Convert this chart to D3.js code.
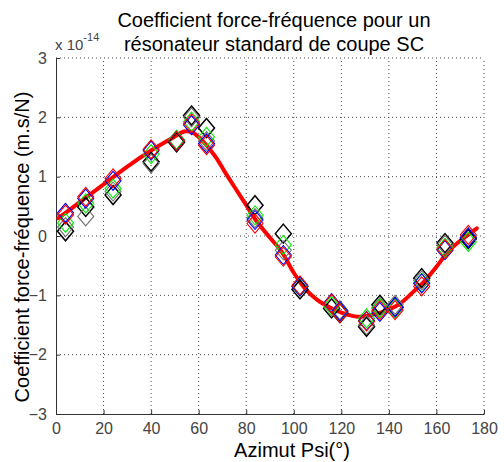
<!DOCTYPE html>
<html><head><meta charset="utf-8">
<script src="https://cdn.jsdelivr.net/npm/d3@7"></script>
<style>body{margin:0;background:#fff}svg{display:block;font-family:"Liberation Sans",Arial,sans-serif}</style>
</head><body><svg id="c" width="504" height="462"></svg>
<script>
// ---- data ----
const azimuth = [4, 12.5, 24, 40, 50.7, 57, 63.3, 83.7, 95.6, 102.6, 115.9, 119.4, 130.6, 136.2, 142.6, 153.8, 163.6, 173.4];
const serieBlack = [0.08, 0.49, 0.69, 1.25, 1.58, 2.03, 1.82, 0.52, 0.04, -0.90, -1.22, -1.30, -1.53, -1.16, -1.20, -0.71, -0.12, -0.05];
const serieGray  = [0.15, 0.33, 0.75, 1.22, 1.62, 2.00, 1.60, 0.30, -0.24, -0.85, -1.15, -1.25, -1.50, -1.20, -1.16, -0.75, -0.15, -0.02];
const serieGreen = [0.22, 0.55, 0.80, 1.38, 1.62, 1.93, 1.67, 0.35, -0.15, -0.85, -1.18, -1.28, -1.39, -1.22, -1.22, -0.79, -0.20, -0.10];
const serieBlue  = [0.39, 0.63, 0.93, 1.44, 1.60, 1.87, 1.56, 0.27, -0.32, -0.85, -1.13, -1.27, -1.43, -1.28, -1.20, -0.80, -0.24, -0.03];
const serieRed   = [0.36, 0.66, 0.97, 1.46, 1.60, 1.90, 1.53, 0.21, -0.35, -0.83, -1.14, -1.30, -1.44, -1.25, -1.25, -0.85, -0.22, 0.02];
const fitX = [1, 10, 20, 30, 40, 48, 54, 57, 60, 67, 71, 75, 80, 84, 90, 95, 100, 105, 110, 115, 120, 127, 135, 140, 145, 150, 155, 160, 165, 170, 177];
const fitY = [0.30, 0.57, 0.87, 1.17, 1.44, 1.63, 1.76, 1.75, 1.67, 1.34, 1.08, 0.83, 0.52, 0.27, -0.03, -0.27, -0.62, -0.90, -1.08, -1.20, -1.29, -1.36, -1.31, -1.24, -1.13, -0.95, -0.76, -0.52, -0.26, -0.08, 0.13];
const xTicks = [0, 20, 40, 60, 80, 100, 120, 140, 160, 180];
const yTicks = [-3, -2, -1, 0, 1, 2, 3];
const series = [
  {name: "black", values: serieBlack, color: "#000000"},
  {name: "gray", values: serieGray, color: "#707070"},
  {name: "green", values: serieGreen, color: "#00ee00"},
  {name: "blue", values: serieBlue, color: "#0000ff"},
  {name: "red", values: serieRed, color: "#ff0000"}
];
const titleLines = ["Coefficient force-fréquence pour un", "résonateur standard de coupe SC"];
const xLabel = "Azimut Psi(°)";
const yLabel = "Coefficient force-fréquence (m.s/N)";

// ---- layout ----
const svg = d3.select("#c");
const L = 56, R = 484, T = 58, B = 414;
const x = d3.scaleLinear().domain([0, 180]).range([L, R]);
const y = d3.scaleLinear().domain([-3, 3]).range([B, T]);

// grid
const grid = svg.append("g").attr("stroke", "#000").attr("stroke-dasharray", "1,3").attr("stroke-width", 1).attr("opacity", 0.7);
xTicks.filter(d => d > 0).forEach(d => grid.append("line").attr("x1", x(d)).attr("x2", x(d)).attr("y1", B).attr("y2", T));
yTicks.filter(d => d > -3).forEach(d => grid.append("line").attr("x1", L).attr("x2", R).attr("y1", y(d)).attr("y2", y(d)));

// axes
const fmt = d3.format("d");
const xAxis = d3.axisBottom(x).tickValues(xTicks).tickFormat(fmt).tickSizeInner(-4).tickSizeOuter(0).tickPadding(8);
const yAxis = d3.axisLeft(y).tickValues(yTicks).tickFormat(fmt).tickSizeInner(-4).tickSizeOuter(0).tickPadding(9);
const gx = svg.append("g").attr("transform", `translate(0,${B})`).call(xAxis);
const gy = svg.append("g").attr("transform", `translate(${L},0)`).call(yAxis);
[gx, gy].forEach(g => {
  g.select(".domain").attr("stroke", "#333").attr("stroke-width", 1);
  g.selectAll(".tick line").attr("stroke", "#333");
  g.selectAll(".tick text").attr("fill", "#444").style("font-size", "16px").style("font-family", "Liberation Sans, Arial, sans-serif");
});
gx.selectAll(".tick text").attr("dy", "0.75em");

// fit curve
const line = d3.line().x((d, i) => x(fitX[i])).y(d => y(d)).curve(d3.curveCatmullRom.alpha(0.5));
svg.append("path").datum(fitY).attr("d", line).attr("fill", "none").attr("stroke", "#ff0000").attr("stroke-width", 4).attr("stroke-linejoin", "round").attr("stroke-linecap", "round");

// markers (diamonds)
const hw = 8, hh = 9.5;
series.forEach(s => {
  svg.append("g").selectAll("path").data(s.values).join("path")
    .attr("d", (d, i) => {
      const cx = x(azimuth[i]), cy = y(d);
      return `M${cx},${cy - hh}L${cx + hw},${cy}L${cx},${cy + hh}L${cx - hw},${cy}Z`;
    })
    .attr("fill", "none").attr("stroke", s.color).attr("stroke-width", s.name === "black" ? 1.5 : 1.1);
});

// exponent
const ex = svg.append("text").attr("x", 55).attr("y", 50).attr("fill", "#444").style("font-size", "15px");
ex.append("tspan").text("x 10");
ex.append("tspan").attr("dy", -9).style("font-size", "11px").text("-14");

// title
svg.append("g").selectAll("text").data(titleLines).join("text")
  .attr("x", 274).attr("y", (d, i) => 27 + i * 23.5).attr("text-anchor", "middle")
  .style("font-size", "20px").attr("fill", "#000").text(d => d);

// axis labels
svg.append("text").attr("x", 292).attr("y", 457).attr("text-anchor", "middle").style("font-size", "20px").text(xLabel);
svg.append("text").attr("transform", "translate(29,247) rotate(-90)").attr("text-anchor", "middle").style("font-size", "20px").text(yLabel);
</script></body></html>
